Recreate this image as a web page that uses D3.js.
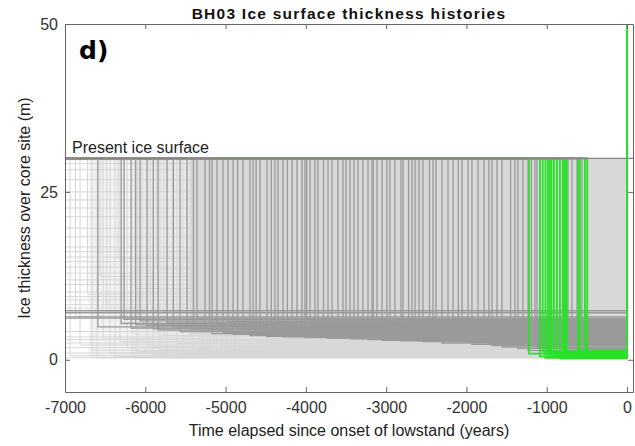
<!DOCTYPE html>
<html>
<head>
<meta charset="utf-8">
<script src="https://cdnjs.cloudflare.com/ajax/libs/d3/7.8.5/d3.min.js"></script>
<style>
  body { margin: 0; background: #fff; }
  svg { display: block; }
  .tick text { font-family: "Liberation Sans", Arial, sans-serif; font-size: 16px; fill: #333; }
  .tick line { stroke: #666; }
  .domain { stroke: #666; }
</style>
</head>
<body>
<svg id="chart" width="635" height="446"></svg>
<script>
// ---- data ----
var xTicks = [-7000, -6000, -5000, -4000, -3000, -2000, -1000, 0];
var yTicks = [0, 25, 50];
var presentSurface = 30;

// light grey (poor fit) histories: onset of lowstand (yr) and lowstand thickness (m)
var lightOnset = [-7000, -7000, -7000, -7000, -7000, -7000, -7000, -7000, -7000, -7000,
  -7000, -7000, -7000, -7000, -7000, -7000, -7000, -7000, -7000, -7000,
  -7000, -7000, -7000, -7000, -7000, -7000, -7000, -7000, -7000, -7000,
  -6937, -6870, -6813, -6720, -6663, -6600, -6560, -6526, -6480, -6439,
  -6377, -6340, -6315, -6260, -6227, -6165, -6130, -6103, -6040, -5978,
  -5940, -5904, -5860, -5817, -5770, -5729, -5660, -5605, -5530, -5480,
  -5406, -5330, -5281, -5194, -5107, -5050, -4980, -4880];
var lightThick = [29.8, 29.2, 28.3, 26.8, 25.0, 23.8, 22.6, 21.3, 19.6, 18.3,
  16.8, 16.1, 15.3, 14.6, 13.8, 12.9, 11.9, 11.2, 10.1, 9.4,
  8.9, 8.2, 7.7, 4.2, 3.4, 3.0, 2.5, 1.8, 1.0, 0.3,
  0.6, 6.5, 2.2, 9.8, 1.4, 0.3, 12.4, 3.1, 7.2, 1.0,
  0.5, 15.1, 2.7, 5.5, 1.8, 0.4, 10.6, 1.2, 4.8, 2.0,
  8.3, 0.8, 13.5, 1.5, 3.6, 0.3, 6.1, 2.4, 0.9, 4.4,
  1.6, 2.9, 0.5, 1.1, 0.7, 2.1, 1.3, 0.6];

// where the light grey histories get dense: start of each denser layer (yr)
var hazeStart = [-6700, -6150];
var hazeBottom = 0.3;
// where they pile up into a solid cloud (outline, yr / m)
var cloudTime = [-5450, -5450, -4500, -4500, 0, 0];
var cloudThick = [30, 3.5, 3.5, 0.3, 0.3, 30];

// dark grey (acceptable) histories
var darkOnset = [-7000, -7000, -7000, -7000,
  -6590, -6300, -6265, -6178, -6120, -6066, -5978, -5900, -5841, -5729,
  -5650, -5567, -5480, -5400, -5356, -5256, -5200, -5169, -5107, -5032,
  -4970, -4907, -4850, -4783, -4696, -4658, -4620, -4571, -4484, -4430,
  -4384, -4347, -4285, -4230, -4172, -4110, -4048, -4011, -3990, -3948,
  -3886, -3849, -3780, -3724, -3674, -3600, -3537, -3500, -3450, -3400,
  -3350, -3288, -3226, -3176, -3160, -3114, -3051, -2990, -2952, -2890,
  -2815, -2790, -2720, -2678, -2640, -2590, -2541, -2460, -2416, -2379,
  -2304, -2229, -2167, -2100, -2055, -1980, -1931, -1856, -1780, -1720,
  -1681, -1619, -1557, -1450, -1395, -1358, -1295, -1233, -1190, -1146,
  -1121, -872, -735, -685, -623, -560, -523];
var darkThick = [6.2, 6.4, 7.0, 7.3,
  4.9, 5.4, 6.0, 4.7, 5.2, 5.8, 5.1, 4.6, 4.4, 5.6,
  4.9, 4.2, 5.0, 4.6, 6.1, 4.5, 5.4, 3.9, 5.3, 4.1,
  5.7, 3.8, 4.5, 4.8, 3.6, 5.5, 4.1, 4.3, 3.5, 5.0,
  6.0, 4.0, 3.4, 4.4, 5.1, 3.7, 4.6, 3.3, 5.3, 5.9,
  3.9, 4.4, 3.4, 3.2, 5.2, 3.6, 4.9, 4.1, 3.1, 5.5,
  4.2, 5.6, 3.0, 3.8, 4.6, 4.7, 2.9, 3.7, 5.4, 3.4,
  2.8, 4.5, 3.9, 3.1, 5.8, 2.8, 2.7, 4.4, 4.0, 3.3,
  2.5, 4.8, 2.9, 3.8, 3.6, 2.6, 2.3, 5.0, 3.2, 2.4,
  2.1, 3.9, 1.9, 3.4, 2.6, 1.7, 4.3, 1.4, 2.9, 2.2,
  1.8, 2.7, 1.6, 3.0, 1.5, 2.4, 1.8];

// green (best fit) histories
var greenOnset = [-1220, -1085, -1050, -1015, -985, -960, -940, -910, -875,
  -835, -800, -785, -770, -750, -607, -585, -523, -495];
var greenThick = [0.9, 0.5, 1.2, 0.3, 0.8, 1.1, 0.4, 0.6, 1.0,
  0.2, 0.7, 1.3, 0.5, 0.9, 0.4, 1.1, 0.6, 0.8];
var greenEnd = 50;

// ---- layout ----
var svg = d3.select("#chart");
var margin = {left: 65, right: 2, top: 24, bottom: 54};
var W = 635, H = 446;
var x = d3.scaleLinear().domain([-7000, 75]).range([margin.left, W - margin.right]);
var y = d3.scaleLinear().domain([-4.8, 50]).range([H - margin.bottom, margin.top]);

svg.append("clipPath").attr("id", "plotclip")
  .append("rect")
    .attr("x", x.range()[0]).attr("y", y.range()[1])
    .attr("width", x.range()[1] - x.range()[0])
    .attr("height", y.range()[0] - y.range()[1]);

var plot = svg.append("g").attr("clip-path", "url(#plotclip)");

var line = d3.line()
  .x(function(d) { return x(d[0]); })
  .y(function(d) { return y(d[1]); });

function history(t, h) {
  return [[-7000, presentSurface], [t, presentSurface], [t, h], [0, h]];
}
function outline(ts, hs) {
  return line(ts.map(function(t, i) { return [t, hs[i]]; })) + "Z";
}

// haze of many light grey histories
plot.selectAll(".haze")
  .data(hazeStart)
  .enter().append("path")
    .attr("class", "haze")
    .attr("d", function(t) {
      return outline([t, t, 0, 0], [presentSurface, hazeBottom, hazeBottom, presentSurface]);
    })
    .attr("fill", "#d9d9d9")
    .attr("fill-opacity", 0.35);

// light grey histories
plot.selectAll(".light")
  .data(lightOnset)
  .enter().append("path")
    .attr("class", "light")
    .attr("d", function(t, i) { return line(history(t, lightThick[i])); })
    .attr("fill", "none")
    .attr("stroke", "#d6d6d6")
    .attr("stroke-width", 1);

// dense part of the light cloud
plot.append("path")
  .attr("d", outline(cloudTime, cloudThick))
  .attr("fill", "#d8d8d8");

// dark grey histories
plot.selectAll(".dark")
  .data(darkOnset)
  .enter().append("path")
    .attr("class", "dark")
    .attr("d", function(t, i) { return line(history(t, darkThick[i])); })
    .attr("fill", "none")
    .attr("stroke", "#9a9a9a")
    .attr("stroke-width", 1.3);

// green histories
plot.selectAll(".green")
  .data(greenOnset)
  .enter().append("path")
    .attr("class", "green")
    .attr("d", function(t, i) {
      return line(history(t, greenThick[i]).concat([[0, greenEnd]]));
    })
    .attr("fill", "none")
    .attr("stroke", "#27e327")
    .attr("stroke-width", 1.8);

// present ice surface
plot.append("line")
  .attr("x1", x.range()[0]).attr("x2", x.range()[1])
  .attr("y1", y(presentSurface)).attr("y2", y(presentSurface))
  .attr("stroke", "#858585")
  .attr("stroke-width", 1.2);

svg.append("text")
  .attr("x", 72).attr("y", y(presentSurface) - 5)
  .attr("font-family", "Liberation Sans, Arial, sans-serif")
  .attr("font-size", 16)
  .attr("fill", "#222")
  .text("Present ice surface");

// ---- axes (MATLAB style, ticks inside, boxed) ----
var plain = function(d) { return String(d); };
var ax = svg.append("g");
ax.append("g")
  .attr("transform", "translate(0," + y.range()[0] + ")")
  .call(d3.axisBottom(x).tickValues(xTicks).tickFormat(plain).tickSize(-5).tickPadding(10).tickSizeOuter(0));
ax.append("g")
  .attr("transform", "translate(0," + y.range()[1] + ")")
  .call(d3.axisTop(x).tickValues(xTicks).tickSize(-5).tickFormat("").tickSizeOuter(0));
ax.append("g")
  .attr("transform", "translate(" + x.range()[0] + ",0)")
  .call(d3.axisLeft(y).tickValues(yTicks).tickFormat(plain).tickSize(-5).tickPadding(7).tickSizeOuter(0));
ax.append("g")
  .attr("transform", "translate(" + x.range()[1] + ",0)")
  .call(d3.axisRight(y).tickValues(yTicks).tickSize(-5).tickFormat("").tickSizeOuter(0));
ax.selectAll(".tick text").attr("font-family", null).attr("font-size", null);

// ---- titles ----
svg.append("text")
  .attr("x", (x.range()[0] + x.range()[1]) / 2).attr("y", 19)
  .attr("text-anchor", "middle")
  .attr("font-family", "Liberation Sans, Arial, sans-serif")
  .attr("font-weight", "bold")
  .attr("font-size", 15.5)
  .attr("letter-spacing", 1.25)
  .attr("fill", "#111")
  .text("BH03 Ice surface thickness histories");

svg.append("text")
  .attr("x", 79).attr("y", 59)
  .attr("font-family", "DejaVu Sans, sans-serif")
  .attr("font-weight", "bold")
  .attr("font-size", 25)
  .attr("fill", "#000")
  .text("d)");

svg.append("text")
  .attr("x", (x.range()[0] + x.range()[1]) / 2).attr("y", 436)
  .attr("text-anchor", "middle")
  .attr("font-family", "Liberation Sans, Arial, sans-serif")
  .attr("font-size", 16)
  .attr("fill", "#222")
  .text("Time elapsed since onset of lowstand (years)");

svg.append("text")
  .attr("transform", "translate(30," + ((y.range()[0] + y.range()[1]) / 2) + ") rotate(-90)")
  .attr("text-anchor", "middle")
  .attr("font-family", "Liberation Sans, Arial, sans-serif")
  .attr("font-size", 16)
  .attr("fill", "#222")
  .text("Ice thickness over core site (m)");
</script>
</body>
</html>
